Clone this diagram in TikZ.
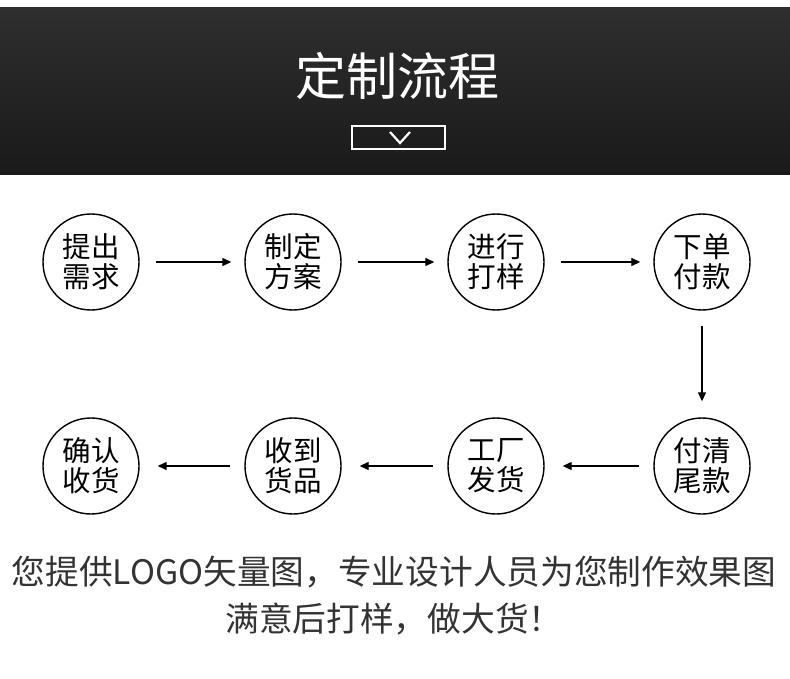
\documentclass[tikz,border=0pt]{standalone}
\usepackage{fontspec}
\newfontfamily\cjk{Noto Sans CJK SC}
\usetikzlibrary{arrows.meta}
\definecolor{bannertop}{HTML}{2E2E2E}
\definecolor{bannerbot}{HTML}{1A1A1A}
\definecolor{notegray}{HTML}{333333}
\tikzset{
  stepnode/.style={circle, draw=black, line width=1.4pt, minimum size=96pt, inner sep=0pt,
    align=center, font=\cjk\fontsize{28.5}{30}\selectfont},
  flow/.style={-{Triangle[length=9pt,width=8pt]}, line width=1.3pt},
}
\begin{document}
\begin{tikzpicture}[x=1pt,y=-1pt]
    \useasboundingbox (0,0) rectangle (790,679);
    \fill[white] (0,0) rectangle (790,679);
    % 顶部标题栏
    \shade[top color=bannertop,bottom color=bannerbot] (0,8) rectangle (790,175);
    \node[text=white, font=\cjk\fontsize{51}{51}\selectfont] (title) at (397,76) {定制流程};
    \node[draw=white, line width=1.3pt, minimum width=93pt, minimum height=23pt, inner sep=0pt] (tag) at (398.5,137.5) {};
    \draw[white, line width=2.2pt] (390,132) -- (400,143) -- (410,132);

    % 流程步骤
    \foreach \name/\x/\y/\txt in {s1/91/262/{提出\\需求}, s2/293/262/{制定\\方案},
        s3/496/262/{进行\\打样}, s4/702/262/{下单\\付款}, s5/702/466/{付清\\尾款},
        s6/496/466/{工厂\\发货}, s7/293/466/{收到\\货品}, s8/91/466/{确认\\收货}}
    \node[stepnode] (\name) at (\x,\y) {\txt};

    % 箭头
    \draw[flow, shorten <=16pt, shorten >=13pt] (s1) -- (s2);
    \draw[flow, shorten <=16pt, shorten >=13pt] (s2) -- (s3);
    \draw[flow, shorten <=16pt, shorten >=13pt] (s3) -- (s4);
    \draw[flow, shorten <=15pt, shorten >=16pt] (s4) -- (s5);
    \draw[flow, shorten <=14pt, shorten >=18pt] (s5) -- (s6);
    \draw[flow, shorten <=14pt, shorten >=18pt] (s6) -- (s7);
    \draw[flow, shorten <=14pt, shorten >=18pt] (s7) -- (s8);

    % 底部说明
    \node[text=notegray, font=\cjk\fontsize{33.7}{47}\selectfont, align=center] (note) at (394,596)
        {您提供LOGO矢量图，专业设计人员为您制作效果图\\满意后打样，做大货！};
\end{tikzpicture}
\end{document}
